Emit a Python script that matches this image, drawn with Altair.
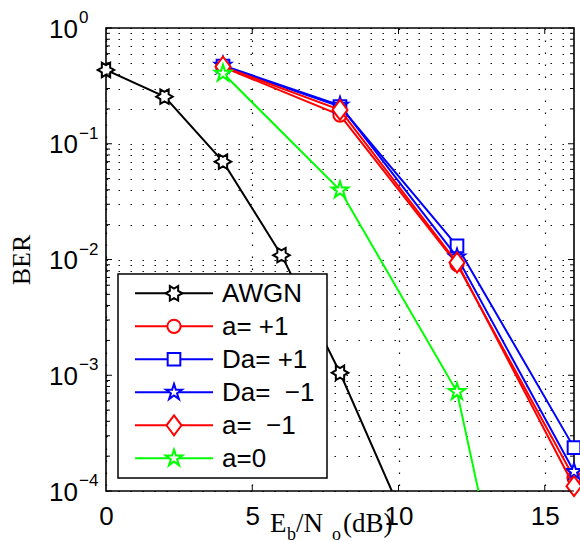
import math
import altair as alt
import pandas as pd

# ---------------- data ----------------
series = ["AWGN", "a= +1", "Da= +1", "Da= -1", "a= -1", "a=0"]
legend_labels = ["AWGN", "a= +1", "Da= +1", "Da=\u00a0\u00a0\u22121", "a=\u00a0\u00a0\u22121", "a=0"]
colors = ["#000000", "#ff0000", "#0000ff", "#0000ff", "#ff0000", "#00ff00"]

x_awgn = [0, 2, 4, 6, 8, 10]
ber_awgn = [0.434, 0.255, 0.070, 0.0109, 0.00105, 7.4e-5]

x_sim = [4, 8, 12, 16]
ber_a_p1 = [0.46, 0.177, 0.0091, 1.3e-4]
ber_da_p1 = [0.47, 0.21, 0.0131, 2.37e-4]
ber_da_m1 = [0.475, 0.215, 0.0105, 1.47e-4]
ber_a_m1 = [0.463, 0.196, 0.0094, 1.1e-4]
ber_a0 = [0.406, 0.0398, 7.2e-4, 1.5e-8]

x_ticks = [0, 5, 10, 15]
y_decades = [1, 0.1, 0.01, 0.001, 0.0001]
y_exponents = ["0", "\u22121", "\u22122", "\u22123", "\u22124"]

# ---------------- style ----------------
W, H = 468, 463
SANS = "Liberation Sans"
SERIF = "Liberation Serif"


def star_path(n, r_in, start_deg):
    pts = []
    for i in range(2 * n):
        r = 1.0 if i % 2 == 0 else r_in
        a = math.radians(start_deg + i * 180.0 / n)
        pts.append(f"{r * math.cos(a):.4f},{r * math.sin(a):.4f}")
    return "M" + "L".join(pts) + "Z"


hexagram = star_path(6, 0.5774, 0)
pentagram = star_path(5, 0.382, -90)
diamond = "M0,-1.33L1,0L0,1.33L-1,0Z"

shapes = [hexagram, "circle", "square", pentagram, diamond, pentagram]
sizes = [276, 177, 160, 280, 225, 300]

series_x = [x_awgn, x_sim, x_sim, x_sim, x_sim, x_sim]
series_y = [ber_awgn, ber_a_p1, ber_da_p1, ber_da_m1, ber_a_m1, ber_a0]

grid_vals = []
for k in range(-4, 0):
    for m in range(1, 10):
        grid_vals.append(m * 10.0 ** k)
grid_vals.append(1.0)
minor_vals = [v for v in grid_vals if not any(abs(v - d) < 1e-12 for d in y_decades)]

xscale = alt.Scale(domain=[0, 16], nice=False, zero=False)
yscale = alt.Scale(type="log", domain=[1e-4, 1], nice=False)

x_axis = alt.Axis(values=x_ticks, grid=True, gridDash=[1.4, 10.6], gridColor="black",
                  gridWidth=1.2, gridOpacity=1, ticks=False, domain=False, title=None,
                  labelFont=SANS, labelFontSize=26, labelColor="black",
                  labelPadding=12, labelAngle=0, labelFlush=False)
y_axis = alt.Axis(values=grid_vals, grid=True, gridDash=[1.4, 10.6], gridColor="black",
                  gridWidth=1.2, gridOpacity=1, ticks=False, domain=False, title=None,
                  labels=False)


def X(field="x"):
    return alt.X(f"{field}:Q", scale=xscale, axis=x_axis)


def Y(field="ber"):
    return alt.Y(f"{field}:Q", scale=yscale, axis=y_axis)


layers = []

# data series
for i, name in enumerate(series):
    df = pd.DataFrame({"x": series_x[i], "ber": series_y[i]})
    base = alt.Chart(df)
    layers.append(base.mark_line(clip=True, color=colors[i], strokeWidth=2).encode(x=X(), y=Y()))
    layers.append(
        base.transform_filter("datum.ber >= 0.0001")
        .mark_point(shape=shapes[i], size=sizes[i], filled=True, fill="white",
                    stroke=colors[i], strokeWidth=2, opacity=1)
        .encode(x=X(), y=Y())
    )

# inward ticks
dec_df = pd.DataFrame({"ber": y_decades})
min_df = pd.DataFrame({"ber": minor_vals})
xt_df = pd.DataFrame({"x": [5, 10, 15]})
tick_style = dict(color="black", strokeWidth=1)
layers += [
    alt.Chart(dec_df).mark_rule(**tick_style).encode(y=Y(), x=alt.value(0), x2=alt.value(6)),
    alt.Chart(min_df).mark_rule(**tick_style).encode(y=Y(), x=alt.value(0), x2=alt.value(4)),
    alt.Chart(dec_df).mark_rule(**tick_style).encode(y=Y(), x=alt.value(W - 6), x2=alt.value(W)),
    alt.Chart(min_df).mark_rule(**tick_style).encode(y=Y(), x=alt.value(W - 4), x2=alt.value(W)),
    alt.Chart(xt_df).mark_rule(**tick_style).encode(x=X(), y=alt.value(0), y2=alt.value(6)),
    alt.Chart(xt_df).mark_rule(**tick_style).encode(x=X(), y=alt.value(H - 6), y2=alt.value(H)),
]

# y tick labels 10^k
ylab_df = pd.DataFrame({"ber": y_decades, "e": y_exponents})
layers += [
    alt.Chart(ylab_df).mark_text(align="right", baseline="alphabetic", font=SANS,
                                 fontSize=26, dy=9.5, color="black")
    .encode(y=Y(), x=alt.value(-28), text=alt.value("10")),
    alt.Chart(ylab_df).mark_text(align="left", baseline="alphabetic", font=SANS,
                                 fontSize=17, dy=-5, color="black")
    .encode(y=Y(), x=alt.value(-27), text="e:N"),
]

# axis titles
layers.append(
    alt.Chart(pd.DataFrame({"t": ["BER"]})).mark_text(
        font=SERIF, fontSize=26, angle=270, align="center", baseline="middle", color="black")
    .encode(x=alt.value(-84), y=alt.value(232), text="t:N")
)
title_parts = [("E", 164, 504, 27), ("b", 181, 512, 18), ("/N", 190, 504, 27),
               ("o", 226, 512, 18), ("(dB)", 237, 504, 27)]
for t, px, py, fs in title_parts:
    layers.append(
        alt.Chart(pd.DataFrame({"t": [t]})).mark_text(
            font=SERIF, fontSize=fs, align="left", baseline="alphabetic", color="black")
        .encode(x=alt.value(px), y=alt.value(py), text="t:N")
    )

# legend
leg_df = pd.DataFrame({"series": series, "label": legend_labels,
                       "idx": list(range(len(series)))})
layers.append(
    alt.Chart(pd.DataFrame({"a": [0]})).mark_rect(fill="white", stroke="black", strokeWidth=1.5)
    .encode(x=alt.value(12), x2=alt.value(221), y=alt.value(246), y2=alt.value(450))
)
for i, name in enumerate(series):
    one = leg_df[leg_df["idx"] == i].assign(ly=265.3 + 33 * i)
    c = alt.Chart(one)
    layers += [
        c.mark_rule(color=colors[i], strokeWidth=2)
        .encode(x=alt.value(29), x2=alt.value(107), y=alt.Y("ly:Q", scale=None)),
        c.mark_point(shape=shapes[i], size=sizes[i], filled=True, fill="white",
                     stroke=colors[i], strokeWidth=2, opacity=1)
        .encode(x=alt.value(68), y=alt.Y("ly:Q", scale=None)),
        c.mark_text(align="left", baseline="middle", font=SANS, fontSize=26, color="black", dy=1)
        .encode(x=alt.value(116), y=alt.Y("ly:Q", scale=None), text="label:N"),
    ]

chart = (
    alt.layer(*layers)
    .properties(width=W, height=H,
                autosize=alt.AutoSizeParams(type="none"),
                padding={"left": 106, "top": 28, "right": 6, "bottom": 51},
                background="white")
    .configure_view(stroke="black", strokeWidth=1.6)
)

chart.save("out.html", embed_options={"renderer": "svg", "actions": False})
